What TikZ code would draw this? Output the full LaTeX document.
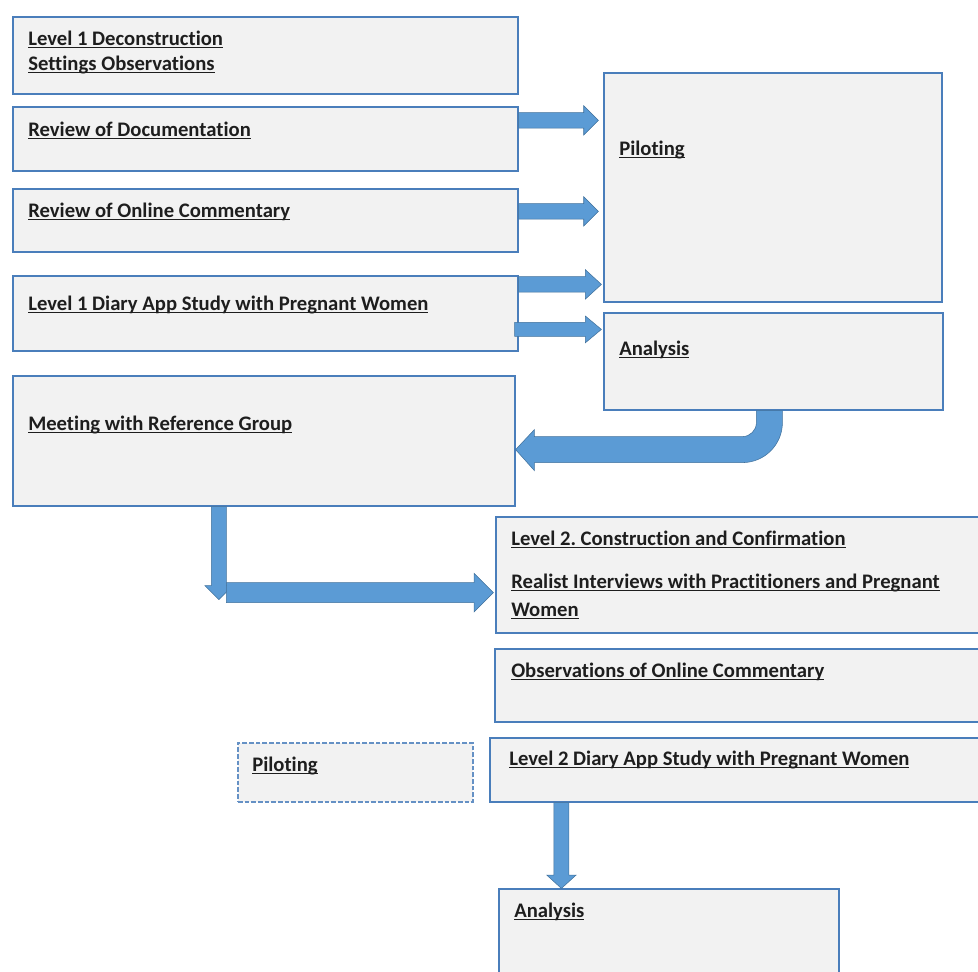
\documentclass[tikz,border=0pt]{standalone}
\usepackage{fontspec}
\setmainfont{Carlito}[Ligatures={NoCommon}]
\usetikzlibrary{calc,fit}
\frenchspacing

\definecolor{boxfill}{HTML}{F2F2F2}
\definecolor{boxline}{HTML}{4A7EBB}
\definecolor{arrowfill}{HTML}{5B9BD5}
\definecolor{arrowline}{HTML}{41719C}
\definecolor{txt}{HTML}{1E1E1E}

% bold text with a solid underline
\newcommand\ultext[1]{\setbox0=\hbox{#1}\rlap{\rule[-2.4pt]{\wd0}{0.9pt}}\box0}

% horizontal block arrow: tail point, tip point, shaft half, head half, head length
\newcommand\hblock[5]{%
  \filldraw[blockarrow] let \p1=(#1), \p2=(#2) in
    (\x1,\y1+#3) -- (\x2-#5,\y1+#3) -- (\x2-#5,\y1+#4) -- (\x2,\y1)
    -- (\x2-#5,\y1-#4) -- (\x2-#5,\y1-#3) -- (\x1,\y1-#3) -- cycle;}
% downward block arrow: tail point, tip point, shaft half, head half, head length
\newcommand\vblock[5]{%
  \filldraw[blockarrow] let \p1=(#1), \p2=(#2) in
    (\x1-#3,\y1) -- (\x1-#3,\y2+#5) -- (\x1-#4,\y2+#5) -- (\x1,\y2)
    -- (\x1+#4,\y2+#5) -- (\x1+#3,\y2+#5) -- (\x1+#3,\y1) -- cycle;}

\tikzset{
  box/.style={draw=boxline, fill=boxfill, line width=0.9pt, inner sep=0pt},
  dashbox/.style={box, draw=boxline!85, dash pattern=on 3.4pt off 1.6pt},
  lbl/.style={anchor=base west, inner sep=0pt, text=txt,
    font=\bfseries\fontsize{15.5}{18}\selectfont},
  blockarrow/.style={fill=arrowfill, draw=arrowline, line width=0.4pt, line join=miter},
}

\begin{document}
\begin{tikzpicture}[x=0.75pt, y=-0.75pt]
\useasboundingbox (0,0) rectangle (978,971);
\clip (0,0) rectangle (978,971);

% level 1 boxes
\node[box, fit={(13,17) (518,94)}]   (decon) {};
\node[box, fit={(13,107) (518,171)}] (doc) {};
\node[box, fit={(13,189) (518,252)}] (online) {};
\node[box, fit={(13,276) (518,351)}] (diary) {};
\node[box, fit={(604,73) (942,302)}] (pilot) {};
\node[box, fit={(604,313) (943,410)}] (ana) {};
\node[box, fit={(13,376) (515,506)}] (meet) {};

% level 2 boxes
\node[box, fit={(496,517) (990,633)}]  (constr) {};
\node[box, fit={(495,649) (990,722)}]  (obs) {};
\node[dashbox, fit={(238,743) (473,802)}] (pilot2) {};
\node[box, fit={(490,738) (990,802)}]  (diary2) {};
\node[box, fit={(499,889) (839,990)}]  (ana2) {};

% labels
\node[lbl] at (28,45)  {\ultext{Level 1 Deconstruction}};
\node[lbl] at (28,70)  {\ultext{Settings Observations}};
\node[lbl] at (28,136) {\ultext{Review of Documentation}};
\node[lbl] at (28,217) {\ultext{Review of Online Commentary}};
\node[lbl] at (28,310) {\ultext{Level 1 Diary App Study with Pregnant Women}};
\node[lbl] at (619,155) {\ultext{Piloting}};
\node[lbl] at (619,355) {\ultext{Analysis}};
\node[lbl] at (28,430) {\ultext{Meeting with Reference Group}};
\node[lbl] at (511,545) {\ultext{Level 2. Construction and Confirmation}};
\node[lbl] at (511,588) {\ultext{Realist Interviews with Practitioners and Pregnant}};
\node[lbl] at (511,616) {\ultext{Women}};
\node[lbl] at (511,677) {\ultext{Observations of Online Commentary}};
\node[lbl] at (252,771) {\ultext{Piloting}};
\node[lbl] at (509,765) {\ultext{Level 2 Diary App Study with Pregnant Women}};
\node[lbl] at (514,917) {\ultext{Analysis}};

% arrows into piloting and analysis
\hblock{$(doc.north east)+(0,14)$}{$(pilot.west)+(-5,0)$}{5.8pt}{11pt}{11pt}
\hblock{$(online.north east)+(0,23)$}{$(pilot.west)+(-5,0)$}{5.8pt}{11pt}{11pt}
\hblock{$(diary.north east)+(0,9)$}{$(pilot.west)+(-2,0)$}{5.8pt}{11pt}{12pt}
\hblock{$(diary.north east)+(-4,54)$}{$(ana.west)+(-2,0)$}{5.3pt}{10pt}{12pt}

% bent arrow from analysis back to the reference group
\begin{scope}[shift={(ana.south west)}]
  \filldraw[blockarrow]
    (153,0) -- (179,0) -- (179,12) arc[start angle=0, end angle=90, radius=40]
    -- (-69,52) -- (-69,60) -- (meet.east |- 0,39) -- (-69,19) -- (-69,26)
    -- (139,26) arc[start angle=90, end angle=0, radius=14] -- cycle;
\end{scope}

% from the reference group down and across to level 2
\vblock{$(meet.south west)+(206.5,0)$}{$(meet.south west)+(206.5,93)$}{5.6pt}{10.5pt}{10.5pt}
\hblock{$(meet.south west)+(214,86)$}{$(constr.west)+(-2,0)$}{7.5pt}{14.5pt}{14.5pt}

% level 2 diary study to analysis
\vblock{$(diary2.south west)+(72,0)$}{$(ana2.north west)+(63,0)$}{5.6pt}{11pt}{10pt}
\end{tikzpicture}
\end{document}
